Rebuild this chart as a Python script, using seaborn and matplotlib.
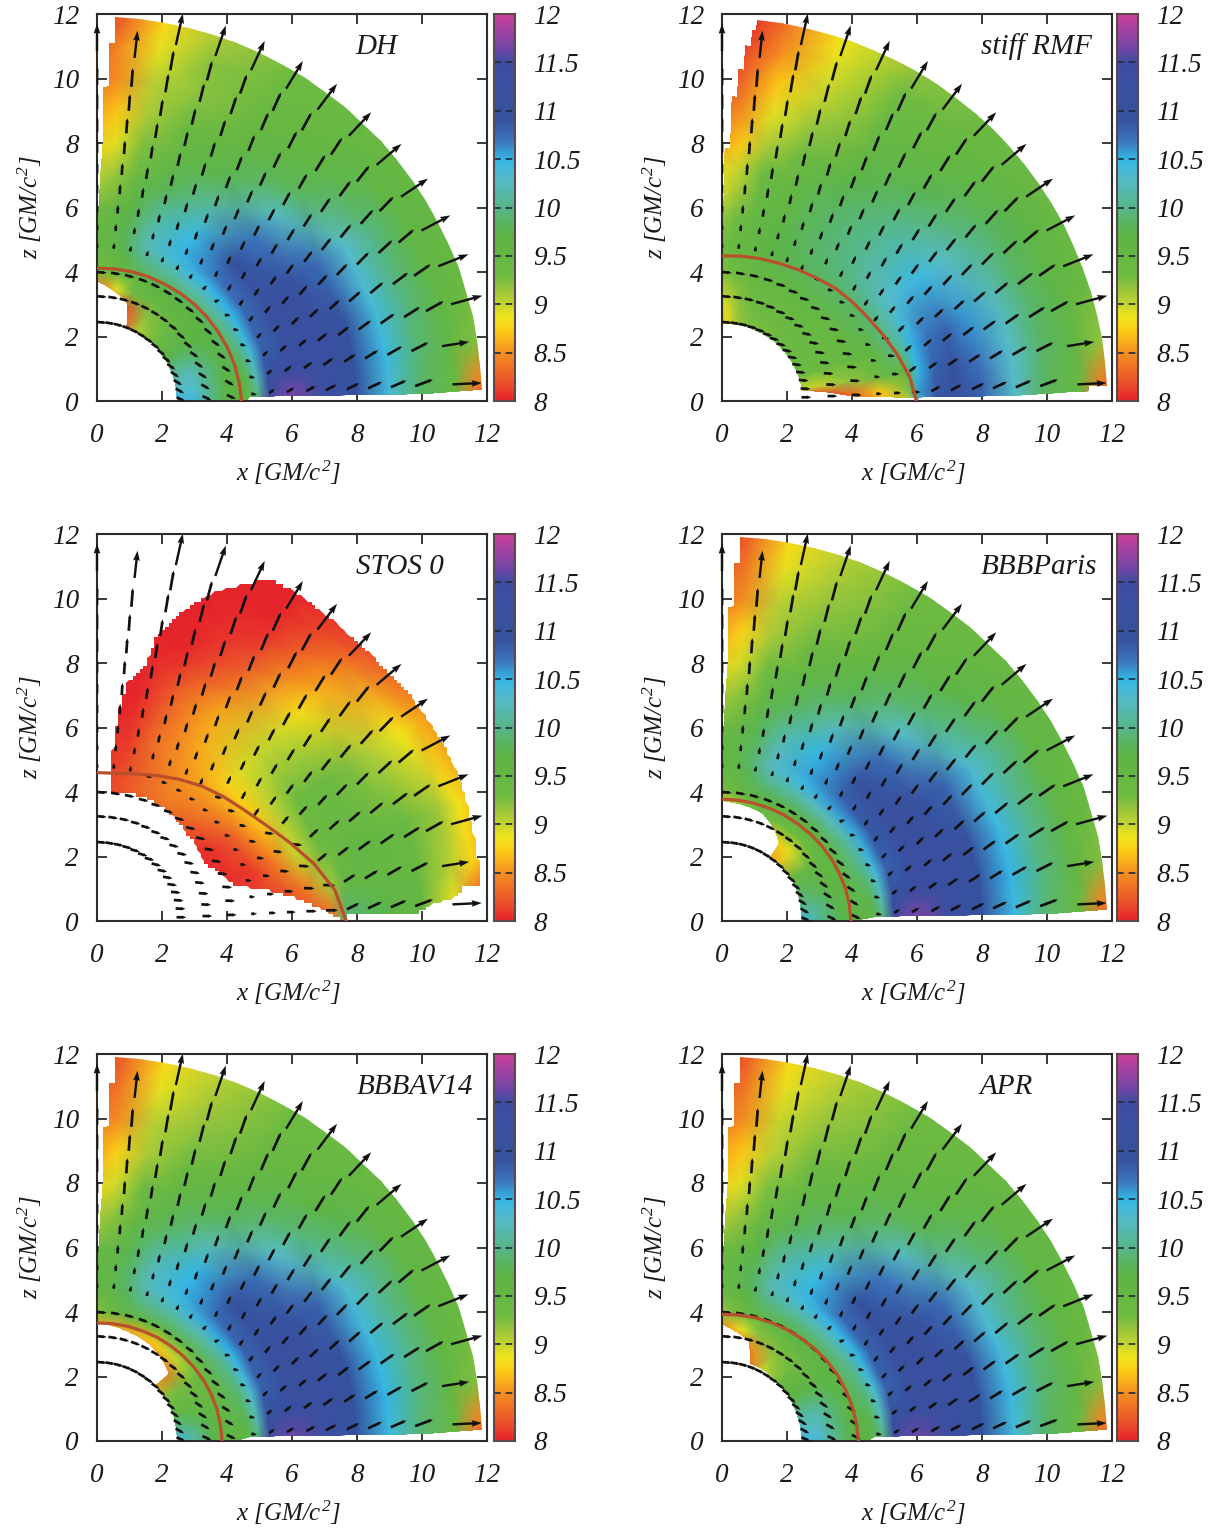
import numpy as np
import seaborn as sns
import matplotlib.pyplot as plt
from matplotlib.colors import LinearSegmentedColormap
from matplotlib.patches import Polygon

# colour scale of log rho
CBAR_LEVELS = [8, 8.25, 8.5, 8.7, 8.85, 9.1, 9.3, 9.7, 10, 10.3, 10.5, 10.7, 10.9, 11.5, 11.65, 12]
CBAR_COLORS = ['#e6242b', '#ec5f2a', '#f39020', '#fcc816', '#f2e51b', '#a6c93a', '#6fbb42', '#5cb445',
               '#56b788', '#56bbc9', '#35b7e6', '#3b74bc', '#35539f', '#3f4ca0', '#6f46a6', '#cc3f9c']
CBAR_TICKS = [8, 8.5, 9, 9.5, 10, 10.5, 11, 11.5, 12]
CBAR_LABELS = ['8', '8.5', '9', '9.5', '10', '10.5', '11', '11.5', '12']
AXIS_TICKS = [0, 2, 4, 6, 8, 10, 12]

PANEL_NAMES = ['DH', 'stiff RMF', 'STOS 0', 'BBBParis', 'BBBAV14', 'APR']
NAME_X = [0.715, 0.807, 0.777, 0.814, 0.815, 0.73]

# grid of the density tables
GRID_DEG = [-2, 3, 9, 18, 32, 46, 60, 72, 80, 86, 92]
GRID_R = [2.2, 3, 3.5, 4, 4.6, 4.95, 5.3, 6, 7, 8, 9, 10, 11, 11.7, 12.8]
RMF_R = [2.2, 3, 4, 4.9, 5.7, 6.1, 6.6, 7.2, 8, 9, 10, 11, 11.7, 12.8]
STOS_R = [2.2, 3.5, 4.3, 5, 5.8, 6.5, 7.2, 7.7, 8.3, 9, 10, 11, 11.7, 12.8]

DH_RHO = [
    [10.4, 10.4, 10.0, 9.7, 9.6, 9.9, 11.6, 11.75, 11.25, 10.9, 10.35, 9.8, 9.4, 8.1, 8.0],
    [10.4, 10.4, 10.0, 9.7, 9.6, 10.0, 11.45, 11.65, 11.2, 10.9, 10.4, 9.85, 9.45, 8.45, 8.1],
    [10.3, 10.3, 10.0, 9.7, 9.7, 10.2, 11.0, 11.3, 11.15, 10.9, 10.45, 9.9, 9.55, 9.25, 9.0],
    [10.1, 10.2, 9.95, 9.7, 9.9, 10.4, 10.8, 11.15, 11.2, 10.95, 10.4, 9.95, 9.6, 9.45, 9.3],
    [9.7, 9.75, 9.7, 9.7, 10.1, 10.5, 10.75, 11.1, 11.1, 10.75, 10.3, 9.95, 9.6, 9.5, 9.45],
    [9.3, 9.4, 9.5, 9.7, 10.2, 10.5, 10.7, 10.95, 10.7, 10.25, 9.8, 9.6, 9.5, 9.45, 9.4],
    [9.0, 9.2, 9.4, 9.7, 10.15, 10.4, 10.5, 10.45, 10.1, 9.75, 9.55, 9.45, 9.35, 9.3, 9.25],
    [8.2, 8.2, 9.3, 9.6, 10.0, 10.2, 10.2, 10.1, 9.75, 9.5, 9.35, 9.2, 9.2, 9.1, 9.0],
    [8.0, 8.2, 8.9, 9.45, 9.7, 9.8, 9.8, 9.7, 9.45, 9.25, 9.1, 9.05, 8.9, 8.8, 8.7],
    [8.0, 8.0, 8.5, 9.3, 9.5, 9.55, 9.55, 9.45, 9.15, 8.9, 8.7, 8.5, 8.5, 8.3, 8.2],
    [8.0, 8.0, 8.3, 9.2, 9.4, 9.45, 9.45, 9.3, 9.0, 8.7, 8.5, 8.3, 8.1, 8.0, 8.0],
]
RMF_RHO = [
    [8.0, 8.0, 8.2, 8.5, 8.8, 10.4, 10.9, 11.05, 10.8, 10.25, 9.75, 9.4, 8.2, 8.0],
    [8.05, 8.05, 8.3, 8.7, 9.2, 10.6, 10.85, 11.05, 10.8, 10.3, 9.8, 9.45, 8.4, 8.1],
    [9.0, 9.0, 9.2, 9.4, 9.6, 10.5, 10.8, 10.95, 10.7, 10.3, 9.85, 9.55, 9.2, 9.0],
    [9.35, 9.4, 9.45, 9.55, 10.1, 10.5, 10.7, 10.8, 10.6, 10.25, 9.85, 9.6, 9.45, 9.3],
    [9.35, 9.4, 9.45, 9.8, 10.2, 10.3, 10.4, 10.45, 10.3, 10.05, 9.8, 9.6, 9.45, 9.4],
    [9.3, 9.4, 9.5, 9.85, 10.0, 10.05, 10.05, 10.05, 9.95, 9.75, 9.55, 9.45, 9.4, 9.35],
    [9.25, 9.35, 9.5, 9.8, 9.85, 9.85, 9.85, 9.8, 9.65, 9.5, 9.4, 9.3, 9.2, 9.15],
    [9.2, 9.3, 9.5, 9.65, 9.65, 9.6, 9.55, 9.5, 9.35, 9.15, 9.0, 8.9, 8.85, 8.8],
    [9.1, 9.2, 9.4, 9.5, 9.5, 9.45, 9.4, 9.35, 9.1, 8.9, 8.7, 8.5, 8.4, 8.3],
    [8.8, 9.0, 9.3, 9.4, 9.3, 9.2, 9.1, 9.0, 8.7, 8.5, 8.3, 8.15, 8.05, 8.0],
    [8.6, 8.8, 9.2, 9.3, 9.1, 9.0, 8.9, 8.8, 8.5, 8.3, 8.1, 8.0, 8.0, 8.0],
]
STOS_RHO = [
    [8.1, 8.1, 8.1, 8.1, 8.15, 8.2, 8.3, 10.0, 9.95, 9.75, 9.55, 8.7, 8.1, 8.0],
    [8.1, 8.1, 8.1, 8.1, 8.15, 8.2, 8.4, 9.85, 9.8, 9.65, 9.5, 8.9, 8.2, 8.0],
    [8.0, 8.05, 8.1, 8.1, 8.2, 8.4, 9.1, 9.45, 9.55, 9.5, 9.45, 9.05, 8.75, 8.4],
    [8.0, 8.0, 8.05, 8.1, 8.4, 9.0, 9.3, 9.45, 9.5, 9.5, 9.4, 9.15, 8.85, 8.5],
    [8.0, 8.0, 8.1, 8.3, 8.7, 9.05, 9.3, 9.35, 9.35, 9.25, 9.05, 8.85, 8.6, 8.3],
    [8.0, 8.1, 8.3, 8.5, 8.75, 8.95, 9.0, 9.0, 8.95, 8.8, 8.6, 8.4, 8.2, 8.05],
    [8.0, 8.2, 8.4, 8.5, 8.55, 8.6, 8.6, 8.55, 8.4, 8.25, 8.1, 8.0, 8.0, 8.0],
    [8.0, 8.2, 8.3, 8.3, 8.35, 8.3, 8.25, 8.2, 8.1, 8.0, 8.0, 8.0, 8.0, 8.0],
    [8.0, 8.1, 8.2, 8.15, 8.1, 8.05, 8.0, 8.0, 8.0, 8.0, 8.0, 8.0, 8.0, 8.0],
    [8.0, 8.1, 8.15, 8.1, 8.05, 8.0, 8.0, 8.0, 8.0, 8.0, 8.0, 8.0, 8.0, 8.0],
    [8.0, 8.1, 8.1, 8.05, 8.0, 8.0, 8.0, 8.0, 8.0, 8.0, 8.0, 8.0, 8.0, 8.0],
]
PARIS_RHO = [
    [10.5, 10.0, 9.8, 9.6, 9.6, 9.9, 11.55, 11.75, 11.3, 10.95, 10.45, 9.85, 9.4, 8.1, 8.0],
    [10.5, 10.05, 9.8, 9.6, 9.65, 10.0, 11.4, 11.65, 11.25, 10.95, 10.45, 9.9, 9.45, 8.45, 8.1],
    [10.2, 10.0, 9.75, 9.6, 9.75, 10.2, 11.0, 11.3, 11.2, 10.95, 10.5, 9.95, 9.55, 9.25, 9.0],
    [9.9, 9.8, 9.65, 9.6, 9.95, 10.4, 10.8, 11.2, 11.2, 11.0, 10.45, 10.0, 9.6, 9.45, 9.3],
    [9.4, 9.45, 9.5, 9.6, 10.15, 10.55, 10.85, 11.15, 11.1, 10.8, 10.35, 10.0, 9.6, 9.5, 9.45],
    [8.6, 8.9, 9.3, 9.65, 10.25, 10.6, 10.8, 11.0, 10.75, 10.3, 9.9, 9.65, 9.5, 9.45, 9.4],
    [8.3, 8.7, 9.3, 9.7, 10.2, 10.45, 10.55, 10.5, 10.2, 9.8, 9.6, 9.45, 9.35, 9.3, 9.25],
    [8.6, 9.0, 9.4, 9.7, 10.05, 10.25, 10.25, 10.15, 9.8, 9.55, 9.35, 9.2, 9.1, 9.05, 8.95],
    [8.6, 8.9, 9.2, 9.5, 9.75, 9.85, 9.85, 9.75, 9.5, 9.3, 9.1, 9.05, 8.9, 8.8, 8.7],
    [8.4, 8.6, 8.9, 9.35, 9.55, 9.6, 9.6, 9.5, 9.2, 8.95, 8.75, 8.5, 8.4, 8.3, 8.2],
    [8.2, 8.4, 8.7, 9.2, 9.45, 9.5, 9.5, 9.35, 9.05, 8.75, 8.5, 8.3, 8.1, 8.0, 8.0],
]
AV14_RHO = [
    [10.5, 10.1, 9.75, 9.55, 9.6, 9.9, 11.55, 11.75, 11.25, 10.9, 10.4, 9.85, 9.4, 8.1, 8.0],
    [10.5, 10.1, 9.75, 9.55, 9.65, 10.0, 11.35, 11.6, 11.2, 10.9, 10.45, 9.9, 9.45, 8.45, 8.1],
    [10.2, 9.9, 9.65, 9.55, 9.75, 10.2, 10.95, 11.25, 11.15, 10.9, 10.5, 9.95, 9.55, 9.25, 9.0],
    [9.75, 9.6, 9.5, 9.5, 9.9, 10.35, 10.8, 11.15, 11.15, 10.95, 10.45, 10.0, 9.6, 9.45, 9.3],
    [9.2, 9.3, 9.35, 9.5, 10.05, 10.5, 10.8, 11.1, 11.1, 10.8, 10.35, 10.0, 9.6, 9.5, 9.45],
    [8.6, 8.4, 9.0, 9.55, 10.2, 10.55, 10.75, 10.95, 10.75, 10.3, 9.9, 9.65, 9.5, 9.45, 9.4],
    [8.4, 8.3, 8.7, 9.55, 10.15, 10.4, 10.5, 10.5, 10.2, 9.8, 9.6, 9.45, 9.35, 9.3, 9.25],
    [8.5, 8.5, 8.6, 9.6, 10.05, 10.2, 10.25, 10.15, 9.8, 9.55, 9.35, 9.2, 9.1, 9.05, 8.95],
    [8.5, 8.5, 8.6, 9.45, 9.75, 9.85, 9.85, 9.75, 9.5, 9.3, 9.1, 9.05, 8.9, 8.8, 8.7],
    [8.3, 8.3, 8.6, 9.3, 9.55, 9.6, 9.6, 9.5, 9.2, 8.95, 8.75, 8.5, 8.4, 8.3, 8.2],
    [8.2, 8.2, 8.5, 9.15, 9.45, 9.5, 9.5, 9.35, 9.05, 8.75, 8.5, 8.3, 8.1, 8.0, 8.0],
]
APR_RHO = [
    [10.45, 10.35, 10.0, 9.7, 9.6, 9.9, 11.6, 11.75, 11.25, 10.9, 10.4, 9.8, 9.4, 8.1, 8.0],
    [10.45, 10.35, 10.0, 9.7, 9.65, 10.0, 11.4, 11.6, 11.2, 10.9, 10.4, 9.85, 9.45, 8.45, 8.1],
    [10.3, 10.25, 9.95, 9.7, 9.75, 10.2, 11.0, 11.25, 11.15, 10.9, 10.45, 9.9, 9.55, 9.25, 9.0],
    [10.1, 10.15, 9.9, 9.65, 9.9, 10.35, 10.8, 11.15, 11.2, 10.95, 10.4, 9.95, 9.6, 9.45, 9.3],
    [9.7, 9.7, 9.6, 9.65, 10.1, 10.5, 10.8, 11.1, 11.1, 10.75, 10.3, 9.95, 9.6, 9.5, 9.45],
    [9.3, 9.35, 9.4, 9.65, 10.2, 10.5, 10.75, 10.95, 10.7, 10.25, 9.8, 9.6, 9.5, 9.45, 9.4],
    [8.9, 9.15, 9.3, 9.65, 10.15, 10.4, 10.5, 10.45, 10.1, 9.75, 9.55, 9.45, 9.35, 9.3, 9.25],
    [8.1, 8.5, 9.2, 9.6, 10.0, 10.2, 10.2, 10.1, 9.75, 9.5, 9.35, 9.2, 9.1, 9.05, 8.95],
    [8.0, 8.2, 8.9, 9.4, 9.7, 9.8, 9.8, 9.7, 9.45, 9.25, 9.05, 9.0, 8.9, 8.8, 8.7],
    [8.0, 8.0, 8.6, 9.25, 9.5, 9.55, 9.55, 9.45, 9.15, 8.9, 8.7, 8.5, 8.4, 8.3, 8.2],
    [8.0, 8.0, 8.4, 9.1, 9.4, 9.45, 9.45, 9.3, 9.0, 8.7, 8.5, 8.3, 8.1, 8.0, 8.0],
]

# outline of the coloured region, (degrees, radius), walked round from the pole
OUTER_DEG = [1.4, 1.5, 1.3, 1.2, 1.7, 87.35, 87.2, 88.1, 87.9, 88.9, 88.7, 89.6, 90]
OUTER_R = [4.7, 5.1, 7, 10, 11.85, 11.91, 11.1, 11.1, 9.76, 9.75, 8.1, 6.0, 3.7]
DH_EDGE_DEG = [90, 85.2, 78.9, 73.8, 68.6, 30, 0, 0]
DH_EDGE_R = [3.7, 3.56, 3.36, 3.23, 2.47, 2.45, 2.45, 4.6]
PARIS_EDGE_DEG = [90, 77, 70, 60, 54, 53.5, 30, 0, 0]
PARIS_EDGE_R = [3.72, 3.62, 3.56, 3.24, 2.96, 2.49, 2.5, 2.42, 4.0]
AV14_EDGE_DEG = [90, 73, 61, 51, 43.5, 44, 0, 0]
AV14_EDGE_R = [3.66, 3.5, 3.39, 3.2, 3.03, 2.49, 2.45, 4.3]
APR_EDGE_DEG = [90, 75.5, 70, 30, 0, 0]
APR_EDGE_R = [3.6, 3.22, 2.55, 2.45, 2.43, 4.5]
RMF_EDGE_DEG = [90, 60, 30, 7.2, 2.0, 0.8, 0, 1, 1.0, 1.5, 1.5, 2.3, 2.3, 84.8, 84.8, 85.4, 85.4, 86.3, 86.3,
                87.2, 87.2, 88.2, 88.2, 89.4, 90]
RMF_EDGE_R = [2.39, 2.42, 2.45, 2.49, 4, 5.9, 6, 6.1, 9, 10.9, 11.3, 11.3, 11.85, 11.85, 11.55, 11.55, 11.05,
              11.05, 10.3, 10.3, 9.45, 9.45, 7.85, 7.85, 2.39]
STOS_EDGE_DEG = [84.3, 78.7, 68.5, 57, 46, 28.6, 14.7, 7.1, 1.6, 0, 1.8, 1.5, 2.8, 3.9, 5.6, 5.6, 25, 36, 42,
                 50, 60, 62.9, 65.4, 70.6, 73.5, 75.7, 78.4, 79.2, 83.1, 84.3, 84.9, 84.3]
STOS_EDGE_R = [4.02, 4.08, 4.09, 4.05, 3.89, 3.76, 4.34, 6.05, 7.2, 7.6, 7.8, 9.9, 10.3, 11.1, 11.35, 11.85, 12,
               11.9, 11.8, 11.8, 11.9, 11.85, 11.55, 10.8, 10.2, 9.7, 8.98, 8.04, 7.45, 6.03, 5.02, 4.02]

# red line, radius at each angle
SHOCK_DEG = [90, 82.5, 75, 67.5, 60, 52.5, 45, 37.5, 30, 22.5, 15, 7.5, 0]
DH_SHOCK_R = [4.12, 4.13, 4.15, 4.165, 4.18, 4.21, 4.24, 4.27, 4.3, 4.34, 4.38, 4.41, 4.45]
RMF_SHOCK_R = [4.5, 4.53, 4.57, 4.62, 4.7, 4.8, 4.94, 5.05, 5.18, 5.36, 5.58, 5.82, 5.98]
STOS_SHOCK_R = [4.6, 4.62, 4.72, 4.88, 5.07, 5.28, 5.47, 5.68, 5.98, 6.4, 6.9, 7.38, 7.67]
PARIS_SHOCK_R = [3.78, 3.78, 3.78, 3.79, 3.8, 3.81, 3.83, 3.85, 3.88, 3.9, 3.93, 3.95, 3.97]
AV14_SHOCK_R = [3.66, 3.67, 3.68, 3.69, 3.71, 3.72, 3.74, 3.76, 3.78, 3.8, 3.82, 3.83, 3.85]
APR_SHOCK_R = [3.93, 3.94, 3.96, 3.97, 3.99, 4.01, 4.04, 4.07, 4.1, 4.12, 4.15, 4.17, 4.2]

# velocity arrows
RAY_DEG = [2.7, 9.1, 15.4, 21.7, 27.9, 34.1, 40.4, 46.7, 53.1, 59, 65.2, 71.2, 77.6, 83.8, 90]
RING_R = [2.45, 3.25, 4, 4.75, 5.3, 5.85, 6.45, 7.05, 7.7, 8.35, 9.05, 9.8, 10.5]
RING_LEN = [0.3, 0.3, 0.3, 0.18, 0.22, 0.27, 0.32, 0.37, 0.42, 0.47, 0.52, 0.58, 0.62]
RING_TILT = [0, 0, 0, 1, 1, 0.95, 0.9, 0.85, 0.8, 0.75, 0.7, 0.6, 0.5]
RAY_TILT = [30, 30, 28, 26, 25, 24, 23, 20, 17, 14, 11, 8, 5, 3, 0]
LAST_TAIL = [10.95, 10.75, 11.3, 11.3, 11.3, 11.3, 11.3, 11.3, 11.3, 11.3, 11.3, 11.3, 11.3, 10.7, 10.85]
LAST_LEN = [0.9, 0.85, 1.0, 1.0, 1.0, 1.0, 1.0, 1.0, 1.0, 1.0, 1.0, 1.0, 1.0, 0.85, 0.85]
INNER_DIR = [-25, -30, -32, -35, -35, -38, -38, -35, -33, -30, -25, -20, -15, -10, -5]
FLAT_DIR = [0, -2, -4, -6, -8, -10, -12, -14, -15, -16, -15, -14, -12, -10, -5]
MID_DIR = [-10, -10, -15, -15, -10, 0, 20, 45, 60, 65, 70, 75, 80, 85, 90]

PANEL_R = [GRID_R, RMF_R, STOS_R, GRID_R, GRID_R, GRID_R]
PANEL_RHO = [DH_RHO, RMF_RHO, STOS_RHO, PARIS_RHO, AV14_RHO, APR_RHO]
PANEL_EDGE = [(DH_EDGE_DEG + OUTER_DEG, DH_EDGE_R + OUTER_R), (RMF_EDGE_DEG, RMF_EDGE_R),
              (STOS_EDGE_DEG, STOS_EDGE_R), (PARIS_EDGE_DEG + OUTER_DEG, PARIS_EDGE_R + OUTER_R),
              (AV14_EDGE_DEG + OUTER_DEG, AV14_EDGE_R + OUTER_R), (APR_EDGE_DEG + OUTER_DEG, APR_EDGE_R + OUTER_R)]
PANEL_SHOCK = [DH_SHOCK_R, RMF_SHOCK_R, STOS_SHOCK_R, PARIS_SHOCK_R, AV14_SHOCK_R, APR_SHOCK_R]
PANEL_DIR = [INNER_DIR, FLAT_DIR, FLAT_DIR, INNER_DIR, INNER_DIR, INNER_DIR]

sns.set_theme(style='ticks')
plt.rcParams['font.family'] = ['Liberation Serif', 'DejaVu Serif']
plt.rcParams['font.style'] = 'italic'
plt.rcParams['mathtext.fontset'] = 'custom'
plt.rcParams['mathtext.it'] = 'Liberation Serif:italic'
plt.rcParams['mathtext.rm'] = 'Liberation Serif:italic'
plt.rcParams['mathtext.default'] = 'it'

INK = '#2b2b2b'
W, H = 1220, 1528
cmap = LinearSegmentedColormap.from_list(
    'rho', [((v - 8) / 4, c) for v, c in zip(CBAR_LEVELS, CBAR_COLORS)], N=512)


def polar_xy(deg, r):
    a = np.radians(deg)
    return np.asarray(r) * np.cos(a), np.asarray(r) * np.sin(a)


def outline(deg, r, step=None):
    # walk the edge in polar steps so that arcs stay round
    d_all, r_all = [], []
    for i in range(len(deg)):
        j = (i + 1) % len(deg)
        d_all.extend(np.linspace(deg[i], deg[j], 24))
        r_all.extend(np.linspace(r[i], r[j], 24))
    x, z = polar_xy(np.array(d_all), np.array(r_all))
    xy = np.column_stack([x, z])
    if step:
        # blocky edge of the STOS panel
        xy = np.round(xy / step) * step
    return xy


def arrows(ax, panel):
    sr = PANEL_SHOCK[panel]
    x, z, u, v = [], [], [], []
    for i, deg in enumerate(RAY_DEG):
        shock = np.interp(deg, SHOCK_DEG[::-1], sr[::-1])
        for j, r in enumerate(RING_R):
            # the last arrow of the short rays starts where this ring would be
            if r + RING_LEN[j] > LAST_TAIL[i]:
                continue
            if r < shock or j < 3:
                d = PANEL_DIR[panel][i]
            elif panel in (0, 3, 4, 5) and j == 3:
                d = MID_DIR[i]
            else:
                d = deg + RAY_TILT[i] * RING_TILT[j]
            x0, z0 = polar_xy(deg, r)
            x.append(x0)
            z.append(z0)
            u.append(RING_LEN[j] * np.cos(np.radians(d)))
            v.append(RING_LEN[j] * np.sin(np.radians(d)))
    ax.quiver(x, z, u, v, angles='xy', scale_units='xy', scale=1, units='dots', width=2.7, color='#111111',
              headwidth=1.3, headlength=1.5, headaxislength=1.5, minlength=0, minshaft=0.5, zorder=4)
    x, z = polar_xy(np.array(RAY_DEG), np.array(LAST_TAIL))
    ends = np.radians(RAY_DEG)
    ax.quiver(x, z, np.array(LAST_LEN) * np.cos(ends), np.array(LAST_LEN) * np.sin(ends), angles='xy',
              scale_units='xy', scale=1, units='dots', width=2.4, color='#111111', headwidth=2.8, headlength=4.2,
              headaxislength=3.8, minlength=0, zorder=4, clip_on=False)


fig = plt.figure(figsize=(W / 100, H / 100), dpi=100)
col_left = [97, 722]
col_cbar = [494, 1117]
row_top = [14, 534, 1054]
box_w, box_h = 390, 387

for panel, name in enumerate(PANEL_NAMES):
    row, col = panel // 2, panel % 2
    ax = fig.add_axes([col_left[col] / W, 1 - (row_top[row] + box_h) / H, box_w / W, box_h / H])
    cax = fig.add_axes([col_cbar[col] / W, 1 - (row_top[row] + box_h) / H, 21 / W, box_h / H])

    # density field, clipped to the region outline
    rr, dd = np.meshgrid(PANEL_R[panel], GRID_DEG)
    xx, zz = polar_xy(dd, rr)
    mesh = ax.pcolormesh(xx, zz, np.array(PANEL_RHO[panel]), shading='gouraud', cmap=cmap, vmin=8, vmax=12,
                         zorder=1)
    edge = outline(*PANEL_EDGE[panel], step=0.11 if panel == 2 else None)
    clip = Polygon(edge, closed=True, transform=ax.transData, fill=False, edgecolor='none')
    ax.add_patch(clip)
    mesh.set_clip_path(clip)

    arrows(ax, panel)

    sx, sz = polar_xy(np.array(SHOCK_DEG), np.array(PANEL_SHOCK[panel]))
    sns.lineplot(x=sx, y=sz, ax=ax, color='#b8502c', linewidth=2.3, sort=False, estimator=None, legend=False,
                 zorder=5)

    ax.set_xlim(0, 12)
    ax.set_ylim(0, 12)
    ax.set_xticks(AXIS_TICKS)
    ax.set_yticks(AXIS_TICKS)
    ax.tick_params(direction='in', length=7, width=1.3, color=INK, top=True, right=True, labelsize=19.5,
                   labelcolor='#1a1a1a', pad=13)
    ax.tick_params(axis='x', pad=16)
    for s in ax.spines.values():
        s.set_visible(True)
        s.set_linewidth(1.5)
        s.set_color(INK)
    ax.set_xlabel(r'$x\ [GM/c^2]$', fontsize=18, color='#1a1a1a', va='center')
    ax.set_ylabel(r'$z\ [GM/c^2]$', fontsize=18, color='#1a1a1a', va='center')
    ax.xaxis.set_label_coords(0.49, -0.186)
    ax.yaxis.set_label_coords(-0.172, 0.5)
    ax.text(NAME_X[panel], 0.915, name, transform=ax.transAxes, fontsize=21, ha='center', va='center',
            color='#1a1a1a', zorder=6)

    # colour bar as a one column heatmap
    levels = np.linspace(12, 8, 256).reshape(-1, 1)
    sns.heatmap(levels, ax=cax, cmap=cmap, vmin=8, vmax=12, cbar=False, xticklabels=False, yticklabels=False)
    tick_y = [(12 - v) / 4 * 256 for v in CBAR_TICKS]
    cax.hlines(tick_y[1:-1], 0, 1, colors='#1d2a3a', linestyles=(0, (4, 3)), linewidth=1.2)
    cax.set_yticks(tick_y)
    cax.set_yticklabels(CBAR_LABELS, rotation=0, fontsize=19.5, color='#1a1a1a', ha='left')
    cax.yaxis.tick_right()
    cax.tick_params(axis='y', length=0, pad=13)
    cax.tick_params(axis='x', length=0)
    for s in cax.spines.values():
        s.set_visible(True)
        s.set_linewidth(1.5)
        s.set_color('#5a4a4a')

fig.savefig('out.png', dpi=100, facecolor='white')
